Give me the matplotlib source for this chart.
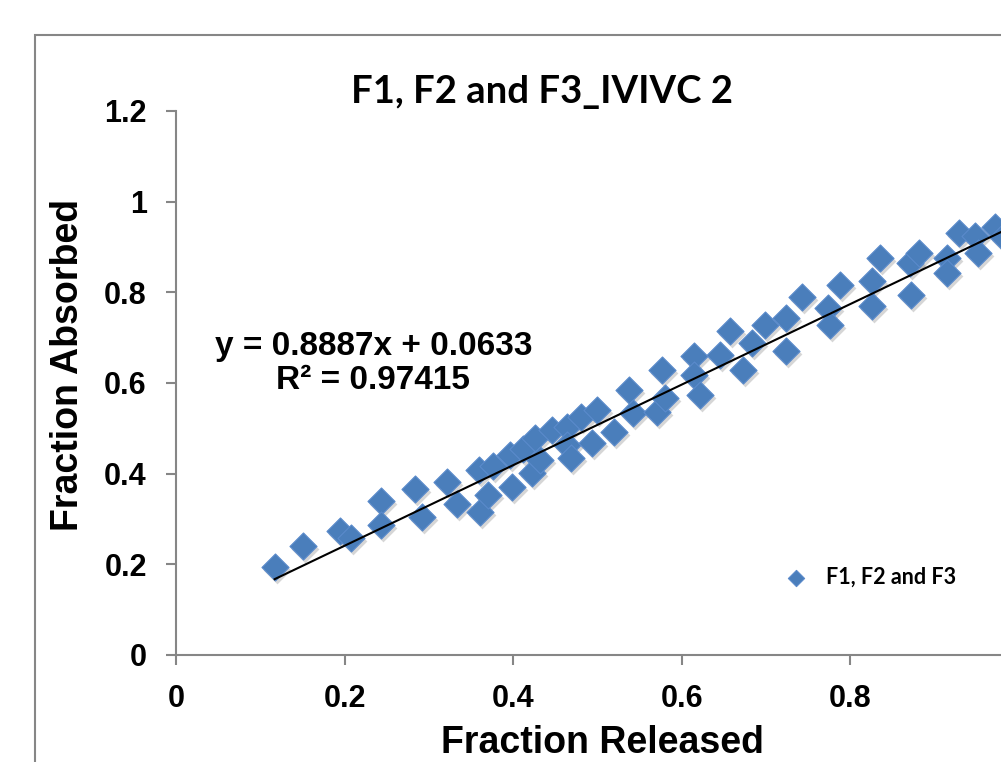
import numpy as np
import matplotlib
matplotlib.use("Agg")
from matplotlib import pyplot as plt
from matplotlib import transforms
from matplotlib.patches import Rectangle

## DATA
fracReleased = [0.117, 0.151, 0.195, 0.208, 0.243, 0.243, 0.284, 0.292, 0.321, 0.333,
                0.359, 0.361, 0.370, 0.376, 0.396, 0.398, 0.412, 0.422, 0.426, 0.432,
                0.446, 0.464, 0.464, 0.469, 0.481, 0.499, 0.493, 0.519, 0.537, 0.542,
                0.570, 0.580, 0.576, 0.614, 0.614, 0.622, 0.645, 0.657, 0.673, 0.683,
                0.699, 0.724, 0.724, 0.742, 0.774, 0.776, 0.788, 0.826, 0.826, 0.835,
                0.871, 0.881, 0.872, 0.915, 0.915, 0.929, 0.948, 0.951, 0.972, 0.981]
fracAbsorbed = [0.195, 0.241, 0.274, 0.258, 0.340, 0.287, 0.366, 0.305, 0.382, 0.333,
                0.407, 0.315, 0.353, 0.416, 0.441, 0.370, 0.455, 0.401, 0.478, 0.430,
                0.497, 0.504, 0.464, 0.434, 0.526, 0.541, 0.467, 0.493, 0.585, 0.534,
                0.537, 0.567, 0.629, 0.659, 0.618, 0.574, 0.662, 0.714, 0.629, 0.688,
                0.728, 0.743, 0.670, 0.789, 0.765, 0.728, 0.817, 0.824, 0.769, 0.876,
                0.865, 0.887, 0.795, 0.876, 0.843, 0.931, 0.925, 0.887, 0.944, 0.921]
SLOPE = 0.8887
INTERCEPT = 0.0633
R2 = 0.97415
xTicks = [0, 0.2, 0.4, 0.6, 0.8, 1.0, 1.2]
xTickLabels = ['0', '0.2', '0.4', '0.6', '0.8', '', '']   # 1 and 1.2 fall outside the cropped picture
yTicks = [0, 0.2, 0.4, 0.6, 0.8, 1.0, 1.2]
yTickLabels = ['0', '0.2', '0.4', '0.6', '0.8', '1', '1.2']

W, H = 1001, 762
BLUE = '#4A7EBB'
GREY = '#868686'
ARIAL = 'Liberation Sans'
CALIBRI = 'Lato'

fig = plt.figure(figsize=(W / 100, H / 100), dpi=100)

# chart area border (cut off at the right and bottom, like the reference)
fig.patches.append(Rectangle((35 / W, -0.1), 1.2, (H - 35) / H + 0.1,
                             transform=fig.transFigure, fill=False,
                             edgecolor=GREY, linewidth=1.5))

# plot area: x 0 at px 176, 0.2 per 168.6 px ; y 0 at px 655, 1.2 at px 111
pxPerX = 843.0
ax = fig.add_axes([176 / W, (H - 655) / H, 1.2 * pxPerX / W, (655 - 111) / H])
ax.set_xlim(0, 1.2)
ax.set_ylim(0, 1.2)

for s in ['top', 'right']:
	ax.spines[s].set_visible(False)
for s in ['left', 'bottom']:
	ax.spines[s].set_color(GREY)
	ax.spines[s].set_linewidth(1.5)

ax.set_xticks(xTicks)
ax.set_xticklabels(xTickLabels)
ax.set_yticks(yTicks)
ax.set_yticklabels(yTickLabels)
ax.tick_params(axis='both', direction='out', color=GREY, width=1.5, length=7,
               labelsize=22, pad=14)
for lbl in ax.get_xticklabels() + ax.get_yticklabels():
	lbl.set_fontfamily(ARIAL)
	lbl.set_fontweight('bold')

# shadows under the markers
shadowTr = transforms.offset_copy(ax.transData, fig=fig, x=2, y=-3, units='dots')
ax.scatter(fracReleased, fracAbsorbed, marker='D', s=200, color='#7a7a7a',
           alpha=0.3, linewidths=0, transform=shadowTr, zorder=2, clip_on=False)
ax.scatter(fracReleased, fracAbsorbed, marker='D', s=190, color=BLUE,
           edgecolors='#5a8acb', linewidths=0.8, zorder=3, clip_on=False,
           label='F1, F2 and F3')

# linear trend line over the data range
xs = np.array([min(fracReleased), max(fracReleased)])
ax.plot(xs, SLOPE * xs + INTERCEPT, color='black', linewidth=1.5, zorder=4)

ax.text(0.195, 0.568, 'y = {:.4f}x + {:.4f}'.format(SLOPE, INTERCEPT), transform=ax.transAxes,
        ha='center', va='center', fontsize=24, fontweight='bold', family=ARIAL)
ax.text(0.195, 0.504, 'R\u00b2 = {:.5f}'.format(R2), transform=ax.transAxes,
        ha='center', va='center', fontsize=24, fontweight='bold', family=ARIAL)

ax.set_xlabel('Fraction Released', fontsize=27, fontweight='bold', family=ARIAL)
ax.xaxis.set_label_coords((602 - 176) / (1.2 * pxPerX), (655 - 743) / 544)
ax.xaxis.label.set_va('center')
ax.set_ylabel('Fraction Absorbed', fontsize=27, fontweight='bold', family=ARIAL)
ax.yaxis.set_label_coords((68 - 176) / (1.2 * pxPerX), (655 - 365) / 544)
ax.yaxis.label.set_va('center')

fig.text(542 / W, 1 - 92 / H, 'F1, F2 and F3_IVIVC 2', ha='center', va='center',
         fontsize=27.5, fontweight='bold', family=CALIBRI)

leg = ax.legend(loc='center left', bbox_to_anchor=(755 / W, 1 - 577 / H),
                bbox_transform=fig.transFigure, frameon=False, handletextpad=0.4,
                markerscale=0.6, prop={'family': CALIBRI, 'weight': 'bold', 'size': 15.5})

fig.savefig('out.png', dpi=100)
